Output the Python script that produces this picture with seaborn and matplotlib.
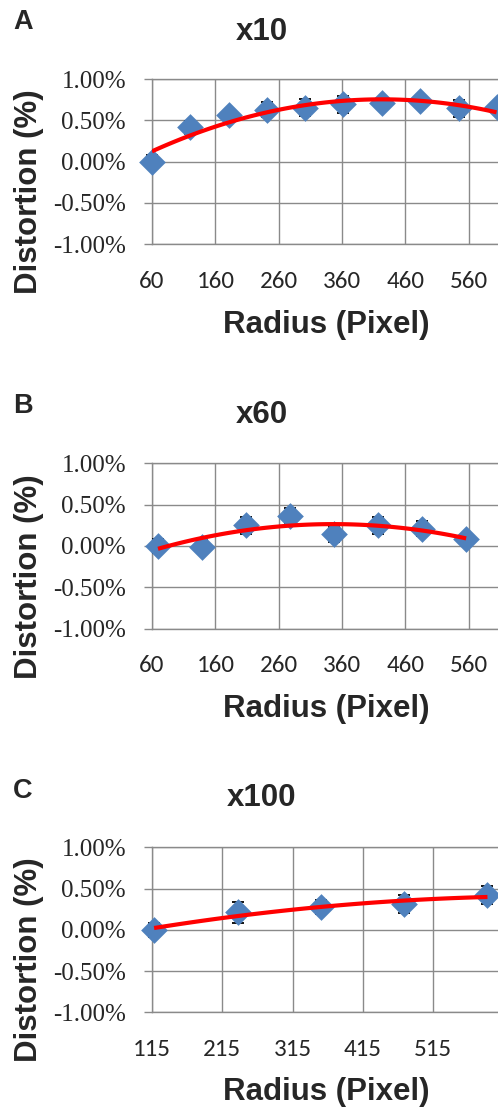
import numpy as np
import pandas as pd
import matplotlib
matplotlib.use("Agg")
import matplotlib.pyplot as plt
from matplotlib import font_manager
from matplotlib.font_manager import FontProperties
import seaborn as sns

# ---------------- data ----------------
panel_letters = ["A", "B", "C"]
panel_titles = ["x10", "x60", "x100"]

radius_x10 = [60, 120, 181, 241, 302, 362, 423, 483, 544, 604]
dist_x10 = [0.00, 0.415, 0.565, 0.63, 0.653, 0.694, 0.706, 0.734, 0.645, 0.66]
err_x10 = [0.08, 0.08, 0.03, 0.09, 0.10, 0.10, 0.04, 0.06, 0.10, 0.05]

radius_x60 = [69.5, 139, 208.5, 278, 347.5, 417, 486.5, 556]
dist_x60 = [0.00, -0.01, 0.25, 0.36, 0.14, 0.25, 0.21, 0.09]
err_x60 = [0.09, 0.08, 0.10, 0.095, 0.09, 0.10, 0.095, 0.03]

radius_x100 = [118, 237, 355, 474, 592]
dist_x100 = [0.00, 0.21, 0.278, 0.31, 0.42]
err_x100 = [0.085, 0.128, 0.085, 0.11, 0.105]

xticks_x10 = [60, 160, 260, 360, 460, 560]
xticks_x60 = [60, 160, 260, 360, 460, 560]
xticks_x100 = [115, 215, 315, 415, 515]
yticks_all = [-1.0, -0.5, 0.0, 0.5, 1.0]

x_label = "Radius (Pixel)"
y_label = "Distortion (%)"

# ---------------- style ----------------
W, H = 498, 1109
sns.set_style("white")
plt.rcParams["font.family"] = ["Liberation Sans", "DejaVu Sans"]

BLUE = "#4F81BD"
RED = "#FF0000"
GRID = "#8A8A8A"
PX = 0.72  # points per pixel at dpi 100


def pick_font(cands, size):
    for c in cands:
        try:
            path = font_manager.findfont(FontProperties(family=c),
                                         fallback_to_default=False)
            fp = FontProperties(fname=path)
            fp.set_size(size)
            return fp
        except Exception:
            continue
    return FontProperties(family="serif", size=size)


fp_y = pick_font(["Tinos", "Liberation Serif", "Noto Serif", "DejaVu Serif"], 18)
fp_x = pick_font(["Carlito", "Open Sans", "Lato"], 18)

fig = plt.figure(figsize=(W / 100, H / 100), dpi=100)


def fx(x):
    return x / W


def fy(y):
    return 1 - y / H


panels = [
    dict(x=radius_x10, y=dist_x10, e=err_x10, xt=xticks_x10, xlim=(60, 606.3),
         top=79.0, bottom=244.3, title_base=40.0, letter_base=29.3,
         xlab_base=333.3, ylab_c=191.7),
    dict(x=radius_x60, y=dist_x60, e=err_x60, xt=xticks_x60, xlim=(60, 606.3),
         top=463.3, bottom=628.7, title_base=423.0, letter_base=413.0,
         xlab_base=716.7, ylab_c=576.7),
    dict(x=radius_x100, y=dist_x100, e=err_x100, xt=xticks_x100, xlim=(115, 607.0),
         top=847.3, bottom=1012.3, title_base=806.5, letter_base=797.5,
         xlab_base=1100.0, ylab_c=960.0),
]

left_px, right_px = 152.0, 498.0
axes = []

for i, p in enumerate(panels):
    ax = fig.add_axes([fx(left_px), fy(p["bottom"]),
                       (right_px - left_px) / W, (p["bottom"] - p["top"]) / H])
    axes.append(ax)
    df = pd.DataFrame({"radius": p["x"], "distortion": p["y"], "err": p["e"]})

    # error bars beneath the markers
    ax.errorbar(df["radius"], df["distortion"], yerr=df["err"], fmt="none",
                ecolor="black", elinewidth=1.0, capsize=4.2, capthick=1.3,
                zorder=3, clip_on=False)
    # diamond markers
    sns.scatterplot(data=df, x="radius", y="distortion", marker="D", s=185,
                    color=BLUE, linewidth=0, ax=ax, zorder=4, clip_on=False)
    # 2nd-order polynomial trend line on top
    sns.regplot(data=df, x="radius", y="distortion", order=2, ci=None,
                scatter=False, truncate=True, ax=ax,
                line_kws=dict(color=RED, lw=3.0, zorder=5,
                              solid_capstyle="butt"))

    ax.set_xlim(*p["xlim"])
    ax.set_ylim(-1.0, 1.0)
    ax.set_xticks(p["xt"])
    ax.set_xticklabels([str(v) for v in p["xt"]])
    ax.set_yticks(yticks_all)
    ax.set_yticklabels([f"{v:.2f}%" for v in yticks_all])
    ax.tick_params(axis="y", direction="out", length=8 * PX, width=1.0,
                   color=GRID, pad=18 * PX, left=True)
    ax.tick_params(axis="x", length=0, pad=19, bottom=True)

    ax.grid(True, color=GRID, linewidth=1.0)
    ax.set_axisbelow(True)
    for side in ["left", "bottom", "top"]:
        ax.spines[side].set_visible(True)
        ax.spines[side].set_color(GRID)
        ax.spines[side].set_linewidth(1.0)
    ax.spines["right"].set_visible(False)

    ax.set_xlabel(x_label, fontsize=22.5, fontweight="bold")
    ax.set_ylabel(y_label, fontsize=22.5, fontweight="bold")
    ax.xaxis.set_label_coords(fx(326.7), fy(p["xlab_base"]),
                              transform=fig.transFigure)
    ax.xaxis.label.set_verticalalignment("baseline")
    ax.yaxis.set_label_coords(fx(29.3), fy(p["ylab_c"]),
                              transform=fig.transFigure)
    ax.yaxis.label.set_verticalalignment("center")
    ax.yaxis.label.set_horizontalalignment("center")

    fig.text(fx(262), fy(p["title_base"]), panel_titles[i], ha="center",
             va="baseline", fontsize=22.5, fontweight="bold")
    fig.text(fx(13), fy(p["letter_base"]), panel_letters[i], ha="left",
             va="baseline", fontsize=19.5, fontweight="bold")

# apply tick fonts after a first draw so the final tick objects carry them
fig.canvas.draw()
for ax in axes:
    for lbl in ax.get_yticklabels():
        lbl.set_fontproperties(fp_y.copy())
    for lbl in ax.get_xticklabels():
        lbl.set_fontproperties(fp_x.copy())

fig.savefig("out.png", dpi=100, facecolor="white")
